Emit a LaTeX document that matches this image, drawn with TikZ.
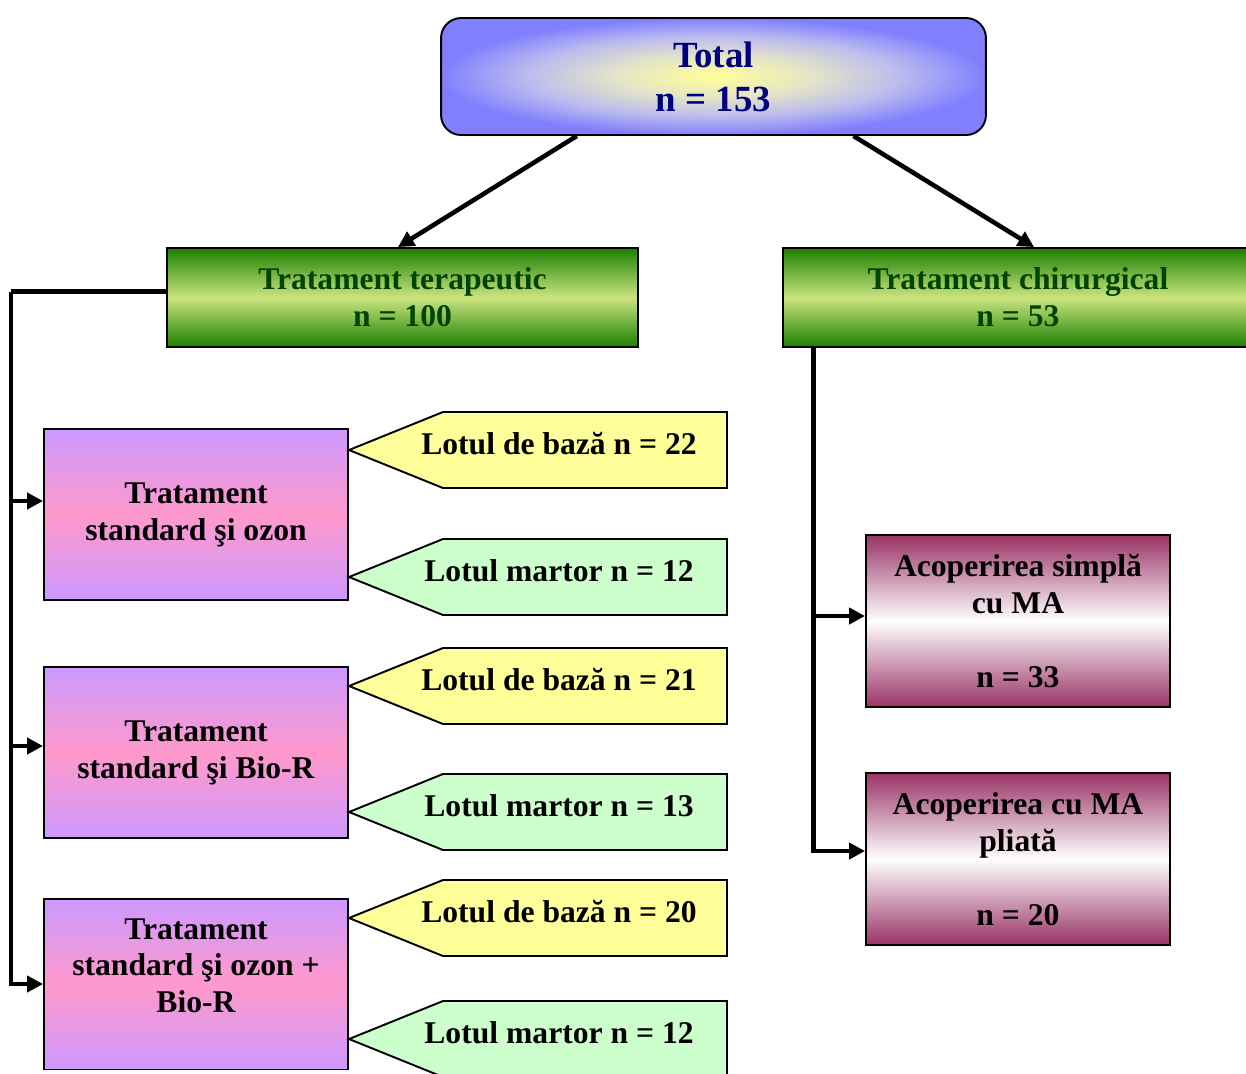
\documentclass[tikz,border=0pt]{standalone}
\usepackage{fontspec}
\setmainfont{Liberation Serif}
\usepackage{xcolor}
\usepackage{tikz}
\usetikzlibrary{positioning,calc,arrows.meta}

\definecolor{totblue}{RGB}{128,128,255}
\definecolor{totlav}{RGB}{188,188,238}
\definecolor{totmid}{RGB}{228,228,200}
\definecolor{totyel}{RGB}{255,255,150}
\definecolor{totnavy}{RGB}{0,0,128}
\definecolor{terdark}{RGB}{26,128,0}
\definecolor{terlight}{RGB}{204,228,128}
\definecolor{tertext}{RGB}{0,68,0}
\definecolor{stdlilac}{RGB}{204,153,255}
\definecolor{stdrose}{RGB}{255,153,204}
\definecolor{acplum}{RGB}{153,51,102}
\definecolor{lotyel}{RGB}{255,255,153}
\definecolor{lotgreen}{RGB}{204,255,204}

\pgfdeclareradialshading{totshade}{\pgfpointorigin}{color(0bp)=(totyel); color(9bp)=(totmid);
  color(17bp)=(totlav); color(25bp)=(totblue); color(50bp)=(totblue)}

% callout: y of tip, fill, name, text
\newcommand\lotul[4]{%
  \draw[lotbox,fill=#2] (349,#1) -- (443,#1-38) -- (727,#1-38) -- (727,#1+38) -- (443,#1+38) -- cycle;
  \node[lottext] (#3) at (559,#1-6) {#4};}

\begin{document}
\begin{tikzpicture}[x=0.02cm,y=-0.02cm,
  box/.style={draw=black,line width=1.1pt,align=center,inner sep=0pt,
    font=\fontsize{18}{21}\selectfont\bfseries},
  totbox/.style={box,rounded corners=0.4cm,minimum width=10.9cm,minimum height=2.34cm,
    shading=totshade,text=totnavy,font=\fontsize{21}{25}\selectfont\bfseries},
  terbox/.style={box,minimum width=9.42cm,minimum height=1.98cm,
    top color=terdark,bottom color=terdark,middle color=terlight,text=tertext},
  stdbox/.style={box,minimum width=6.08cm,minimum height=3.42cm,
    top color=stdlilac,bottom color=stdlilac,middle color=stdrose},
  acbox/.style={box,minimum width=6.08cm,minimum height=3.44cm,
    top color=acplum,bottom color=acplum,middle color=white},
  lotbox/.style={draw=black,line width=1.1pt},
  lottext/.style={inner sep=0pt,font=\fontsize{18}{21}\selectfont\bfseries},
  link/.style={line width=2.6pt},
  arrowed/.style={-{Triangle[length=0.32cm,width=0.32cm]}}]
  \useasboundingbox (0,0) rectangle (1246,1073);
  \clip (0,0) rectangle (1246,1073);

  \node[totbox] (total) at (713.5,76.5) {Total\\n = 153};
  \node[terbox] (ter) at (402.5,297.5) {Tratament terapeutic\\n = 100};
  \node[terbox] (chi) at (1018,297.5) {Tratament chirurgical\\n = 53};

  \node[stdbox] (std1) at (196,514.5) {Tratament\\standard şi ozon};
  \node[stdbox] (std2) at (196,752.5) {Tratament\\standard şi Bio-R};
  \node[stdbox] (std3) at (196,984) {Tratament\\standard şi ozon +\\Bio-R\\ };

  \lotul{450}{lotyel}{baza1}{Lotul de bază n = 22}
  \lotul{577}{lotgreen}{martor1}{Lotul martor n = 12}
  \lotul{686}{lotyel}{baza2}{Lotul de bază n = 21}
  \lotul{812}{lotgreen}{martor2}{Lotul martor n = 13}
  \lotul{918}{lotyel}{baza3}{Lotul de bază n = 20}
  \lotul{1039}{lotgreen}{martor3}{Lotul martor n = 12}

  \node[acbox] (ac1) at (1018,621) {Acoperirea simplă\\cu MA\\\\n = 33};
  \node[acbox] (ac2) at (1018,859) {Acoperirea cu MA\\pliată\\\\n = 20};

  \draw[link,arrowed] ($(total.south west)!0.25!(total.south east)$) -- ([xshift=-0.09cm]ter.north);
  \draw[link,arrowed] ($(total.south west)!0.756!(total.south east)$) -- ([xshift=0.32cm]chi.north);

  \coordinate (terout) at ([yshift=0.12cm]ter.west);
  \coordinate (busl) at ([xshift=-3.1cm]terout);
  \coordinate (std1in) at ([yshift=0.27cm]std1.west);
  \coordinate (std2in) at ([yshift=0.13cm]std2.west);
  \draw[link] (terout) -- (busl);
  \draw[link,arrowed] (busl) |- (std3.west);
  \draw[link,arrowed] (busl |- std1in) -- (std1in);
  \draw[link,arrowed] (busl |- std2in) -- (std2in);

  \coordinate (busr) at ([xshift=0.64cm]chi.south west);
  \coordinate (ac1in) at ([yshift=0.1cm]ac1.west);
  \coordinate (ac2in) at ([yshift=0.16cm]ac2.west);
  \draw[link,arrowed] (busr) |- (ac2in);
  \draw[link,arrowed] (busr |- ac1in) -- (ac1in);
\end{tikzpicture}
\end{document}
